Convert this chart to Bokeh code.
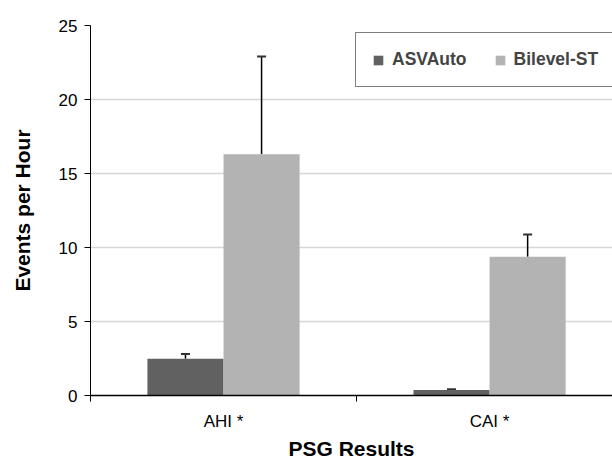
from bokeh.plotting import figure
from bokeh.models import (ColumnDataSource, FixedTicker, Whisker, TeeHead,
                          Legend, LegendItem, Range1d)
from bokeh.embed import file_html
from bokeh.resources import INLINE

# ---- data ----
categories = ["AHI *", "CAI *"]
series_names = ["ASVAuto", "Bilevel-ST"]
asv_auto = [2.48, 0.37]
asv_auto_err = [0.33, 0.05]
bilevel_st = [16.3, 9.38]
bilevel_st_err = [6.6, 1.5]
y_ticks = [0, 5, 10, 15, 20, 25]

# ---- styling ----
FONT = "Liberation Sans"
DARK = "#616161"
LIGHT = "#b3b3b3"
BAR_W = 0.286

centers = [i + 0.5 for i in range(len(categories))]
boundaries = [float(i) for i in range(len(categories) + 1)]

p = figure(width=612, height=462, output_backend="svg", toolbar_location=None,
           x_range=Range1d(0, 1.962), y_range=Range1d(0, 25),
           min_border_left=90, min_border_right=0, min_border_top=25,
           min_border_bottom=67)
p.outline_line_color = None
p.background_fill_color = "white"

src_a = ColumnDataSource(dict(x=[c - BAR_W / 2 for c in centers], top=asv_auto,
                              lower=asv_auto,
                              upper=[v + e for v, e in zip(asv_auto, asv_auto_err)]))
src_b = ColumnDataSource(dict(x=[c + BAR_W / 2 for c in centers], top=bilevel_st,
                              lower=bilevel_st,
                              upper=[v + e for v, e in zip(bilevel_st, bilevel_st_err)]))

r_a = p.vbar(x="x", top="top", width=BAR_W, source=src_a, fill_color=DARK, line_color=None)
r_b = p.vbar(x="x", top="top", width=BAR_W, source=src_b, fill_color=LIGHT, line_color=None)

for src in (src_a, src_b):
    w = Whisker(base="x", lower="lower", upper="upper", source=src, dimension="height",
                lower_head=None,
                upper_head=TeeHead(size=9, line_color="#333333", line_width=2),
                line_color="black", line_width=1.5)
    p.add_layout(w)

legend = Legend(items=[LegendItem(label=series_names[0], renderers=[r_a]),
                       LegendItem(label=series_names[1], renderers=[r_b])],
                orientation="horizontal", location=(265, 308),
                border_line_color="black", border_line_width=1,
                background_fill_color="white", background_fill_alpha=1,
                label_text_font=FONT, label_text_font_style="bold",
                label_text_font_size="17.5px",
                glyph_width=12, glyph_height=12, label_standoff=8,
                spacing=27, padding=16)
p.add_layout(legend)

# grid
p.xgrid.visible = False
p.ygrid.ticker = FixedTicker(ticks=y_ticks)
p.ygrid.grid_line_color = "#d6d6d6"
p.ygrid.grid_line_width = 1.5

# x axis
p.xaxis.ticker = FixedTicker(ticks=centers, minor_ticks=boundaries)
p.xaxis.major_label_overrides = {c: lab for c, lab in zip(centers, categories)}
p.xaxis.major_tick_line_color = None
p.xaxis.minor_tick_line_color = "black"
p.xaxis.minor_tick_out = 6
p.xaxis.minor_tick_in = 0
p.xaxis.axis_line_color = "black"
p.xaxis.axis_line_width = 1.5
p.xaxis.axis_label = "PSG Results"
p.xaxis.major_label_standoff = 10
p.xaxis.axis_label_standoff = 3

# y axis
p.yaxis.ticker = FixedTicker(ticks=y_ticks)
p.yaxis.major_tick_out = 6
p.yaxis.major_tick_in = 0
p.yaxis.minor_tick_line_color = None
p.yaxis.axis_line_color = "black"
p.yaxis.major_tick_line_color = "black"
p.yaxis.axis_label = "Events per Hour"
p.yaxis.major_label_standoff = 7
p.yaxis.axis_label_standoff = 22

for ax in (p.xaxis[0], p.yaxis[0]):
    ax.major_label_text_font = FONT
    ax.major_label_text_font_size = "17px"
    ax.major_label_text_color = "black"
    ax.axis_label_text_font = FONT
    ax.axis_label_text_font_size = "21px"
    ax.axis_label_text_font_style = "bold"
    ax.axis_label_text_color = "black"

open("out.html", "w").write(file_html(p, INLINE))
